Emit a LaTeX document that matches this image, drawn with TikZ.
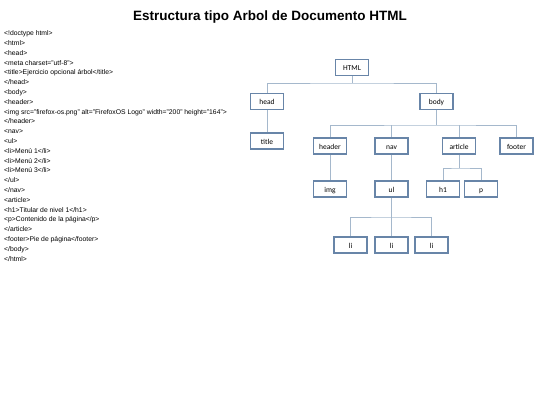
\documentclass[tikz,border=0pt]{standalone}
\usepackage{fontspec}
\setmainfont{Liberation Sans}
\newfontfamily\boxfont{Carlito}
\usetikzlibrary{calc}
\usetikzlibrary{backgrounds}
\definecolor{edgeblue}{RGB}{104,133,168}
\definecolor{linkblue}{RGB}{165,184,204}
\tikzset{tag/.style={draw=edgeblue,line width=1.1pt,fill=white,minimum width=33pt,minimum height=16pt,inner sep=0pt,text height=1.5ex,text depth=.3ex,font=\boxfont\fontsize{7.5}{7.5}\selectfont}}
\tikzset{lk/.style={draw=linkblue,line width=0.8pt}}

\begin{document}
\begin{tikzpicture}[x=1pt,y=-1pt]
        \useasboundingbox (0,0) rectangle (540,405);
        \node (T) at (270,17) {\bfseries\fontsize{13.5}{13.5}\selectfont Estructura tipo Arbol de Documento HTML};
        \node (code) [anchor=north west,align=left,inner sep=0pt,font=\fontsize{6.8}{9.8}\selectfont] at (4,30.5)
          {<!doctype html>\\
           <html>\\
           <head>\\
           <meta charset="utf-8">\\
           <title>Ejercicio opcional árbol</title>\\
           </head>\\
           <body>\\
           <header>\\
           <img src="firefox-os.png" alt="FirefoxOS Logo" width="200" height="164">\\
           </header>\\
           <nav>\\
           <ul>\\
           <li>Menú 1</li>\\
           <li>Menú 2</li>\\
           <li>Menú 3</li>\\
           </ul>\\
           </nav>\\
           <article>\\
           <h1>Titular de nivel 1</h1>\\
           <p>Contenido de la página</p>\\
           </article>\\
           <footer>Pie de página</footer>\\
           </body>\\
           </html>};
        % tree
        \node[tag] (html) at (352,67.5) {HTML};
        \node[tag] (head) at (267,101.5) {head};
        \node[tag] (body) at (436.5,101.5) {body};
        \node[tag] (title) at (267,141) {title};
        \node[tag] (header) at (330,146) {header};
        \node[tag] (nav) at (391.5,146) {nav};
        \node[tag] (article) at (459,146) {article};
        \node[tag] (footer) at (516.5,146) {footer};
        \node[tag] (img) at (330,189) {img};
        \node[tag] (ul) at (391.5,189) {ul};
        \node[tag] (h1) at (443,189) {h1};
        \node[tag] (p) at (481,189) {p};
        \node[tag] (li1) at (350.5,245) {li};
        \node[tag] (li2) at (391.5,245) {li};
        \node[tag] (li3) at (431.5,245) {li};
        \coordinate (b1) at (352,83);
        \coordinate (b2) at (436.5,125);
        \coordinate (b3) at (459,168);
        \coordinate (b4) at (391.5,217);
        \begin{scope}[on background layer]
          \draw[lk] (html) -- (b1);
          \draw[lk] (head) |- (b1) -| (body);
          \draw[lk] (head) -- (title);
          \draw[lk] (body) -- (b2);
          \draw[lk] (header) |- (b2) -| (footer);
          \draw[lk] (nav) -- (nav |- b2);
          \draw[lk] (article) -- (article |- b2);
          \draw[lk] (header) -- (img);
          \draw[lk] (nav) -- (ul);
          \draw[lk] (ul) -- (b4);
          \draw[lk] (article) -- (b3);
          \draw[lk] (h1) |- (b3) -| (p);
          \draw[lk] (li1) |- (b4) -| (li3);
          \draw[lk] (li2) -- (b4);
        \end{scope}
      \end{tikzpicture}
\end{document}
